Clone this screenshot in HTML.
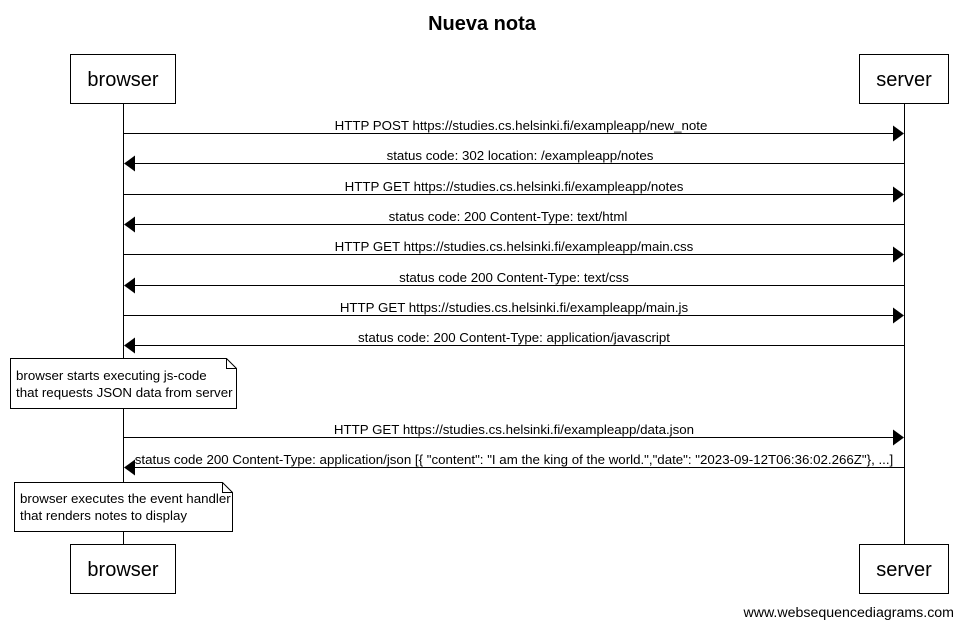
<!DOCTYPE html>
<html><head><meta charset="utf-8"><style>
html,body{margin:0;padding:0;background:#fff;}
svg{display:block;font-family:"Liberation Sans",Arial,sans-serif;}
</style></head><body>
<svg width="964" height="627" viewBox="0 0 964 627" xmlns="http://www.w3.org/2000/svg">
<rect width="964" height="627" fill="#fff"/>
<text x="482" y="30" text-anchor="middle" font-size="20" font-weight="bold">Nueva nota</text>
<g stroke="#000" stroke-width="1" fill="#fff">
<line x1="123.5" y1="103" x2="123.5" y2="544"/>
<line x1="904.5" y1="103" x2="904.5" y2="544"/>
<rect x="70.5" y="54.5" width="105" height="49"/>
<rect x="859.5" y="54.5" width="89" height="49"/>
<rect x="70.5" y="544.5" width="105" height="49"/>
<rect x="859.5" y="544.5" width="89" height="49"/>
<path d="M10.5 358.5 H226.5 L236.5 368.5 V408.5 H10.5 Z"/>
<path d="M226.5 358.5 V368.5 H236.5" fill="none"/>
<path d="M14.5 482.5 H222.5 L232.5 492.5 V531.5 H14.5 Z"/>
<path d="M222.5 482.5 V492.5 H232.5" fill="none"/>
</g>
<g font-size="20" text-anchor="middle">
<text x="123" y="86">browser</text>
<text x="904" y="86">server</text>
<text x="123" y="576">browser</text>
<text x="904" y="576">server</text>
</g>
<g stroke="#000" stroke-width="1">
<line x1="123" y1="133.5" x2="894" y2="133.5"/>
<line x1="134" y1="163.5" x2="904" y2="163.5"/>
<line x1="123" y1="194.5" x2="894" y2="194.5"/>
<line x1="134" y1="224.5" x2="904" y2="224.5"/>
<line x1="123" y1="254.5" x2="894" y2="254.5"/>
<line x1="134" y1="285.5" x2="904" y2="285.5"/>
<line x1="123" y1="315.5" x2="894" y2="315.5"/>
<line x1="134" y1="345.5" x2="904" y2="345.5"/>
<line x1="123" y1="437.5" x2="894" y2="437.5"/>
<line x1="134" y1="467.5" x2="904" y2="467.5"/>
</g>
<g fill="#000">
<path d="M904 133.5 L893 125.5 V141.5 Z"/>
<path d="M124 163.5 L135 155.5 V171.5 Z"/>
<path d="M904 194.5 L893 186.5 V202.5 Z"/>
<path d="M124 224.5 L135 216.5 V232.5 Z"/>
<path d="M904 254.5 L893 246.5 V262.5 Z"/>
<path d="M124 285.5 L135 277.5 V293.5 Z"/>
<path d="M904 315.5 L893 307.5 V323.5 Z"/>
<path d="M124 345.5 L135 337.5 V353.5 Z"/>
<path d="M904 437.5 L893 429.5 V445.5 Z"/>
<path d="M124 467.5 L135 459.5 V475.5 Z"/>
</g>
<g font-size="13.3" text-anchor="middle">
<text x="521" y="130">HTTP POST https://studies.cs.helsinki.fi/exampleapp/new_note</text>
<text x="520" y="160">status code: 302 location: /exampleapp/notes</text>
<text x="514" y="191">HTTP GET https://studies.cs.helsinki.fi/exampleapp/notes</text>
<text x="508" y="221">status code: 200 Content-Type: text/html</text>
<text x="514" y="251">HTTP GET https://studies.cs.helsinki.fi/exampleapp/main.css</text>
<text x="514" y="282">status code 200 Content-Type: text/css</text>
<text x="514" y="312">HTTP GET https://studies.cs.helsinki.fi/exampleapp/main.js</text>
<text x="514" y="342">status code: 200 Content-Type: application/javascript</text>
<text x="514" y="434">HTTP GET https://studies.cs.helsinki.fi/exampleapp/data.json</text>
<text x="514" y="464">status code 200 Content-Type: application/json [{ "content": "I am the king of the world.","date": "2023-09-12T06:36:02.266Z"}, ...]</text>
</g>
<g font-size="13.3">
<text x="16" y="380">browser starts executing js-code</text>
<text x="16" y="397">that requests JSON data from server</text>
<text x="20" y="503">browser executes the event handler</text>
<text x="20" y="520">that renders notes to display</text>
</g>
<text x="954" y="617" text-anchor="end" font-size="14.2">www.websequencediagrams.com</text>
</svg>
</body></html>
